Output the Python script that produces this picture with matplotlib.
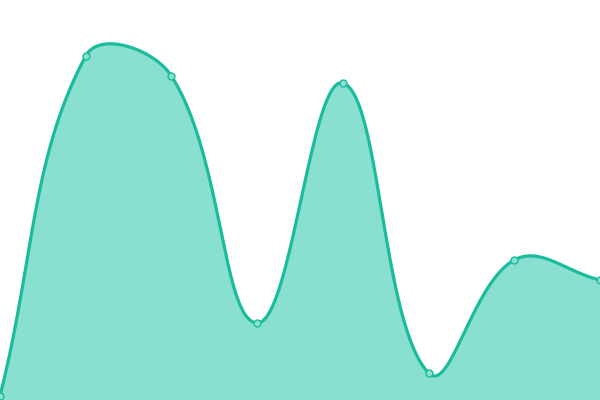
import numpy as np
import matplotlib
matplotlib.use("Agg")
import matplotlib.pyplot as plt

# data
labels = ["A", "B", "C", "D", "E", "F", "G", "H"]
values = [4, 344, 324, 77, 317, 27, 140, 120]

LINE = "#1abc9c"
FILL = "#8ae0d0"
TENSION = 0.4


def spline_path(px, py, t=TENSION, n=40):
    """Chart.js-style cardinal spline through pixel points."""
    pts = np.column_stack([px, py])
    k = len(pts)
    cp_prev = np.zeros_like(pts); cp_next = np.zeros_like(pts)
    for i in range(k):
        prev = pts[max(i - 1, 0)]; cur = pts[i]; nxt = pts[min(i + 1, k - 1)]
        d01 = np.hypot(*(cur - prev)); d12 = np.hypot(*(nxt - cur))
        tot = d01 + d12
        s01 = d01 / tot if tot else 0; s12 = d12 / tot if tot else 0
        cp_prev[i] = cur - t * s01 * (nxt - prev)
        cp_next[i] = cur + t * s12 * (nxt - prev)
    u = np.linspace(0, 1, n)[:, None]
    out = []
    for i in range(k - 1):
        p0, p1, p2, p3 = pts[i], cp_next[i], cp_prev[i + 1], pts[i + 1]
        seg = ((1 - u) ** 3) * p0 + 3 * ((1 - u) ** 2) * u * p1 + 3 * (1 - u) * u ** 2 * p2 + u ** 3 * p3
        out.append(seg if i == 0 else seg[1:])
    return np.vstack(out)


fig = plt.figure(figsize=(6, 4), dpi=100)
ax = fig.add_axes([0, 0, 1, 1])
ax.set_xlim(0, len(labels) - 1)
ax.set_ylim(0, 400)
ax.axis("off")

x = np.arange(len(labels))
pix = ax.transData.transform(np.column_stack([x, values]))
curve = ax.transData.inverted().transform(spline_path(pix[:, 0], pix[:, 1]))

ax.fill_between(curve[:, 0], curve[:, 1], 0, color=FILL, lw=0, zorder=1)
ax.plot(curve[:, 0], curve[:, 1], color=LINE, lw=2.3, zorder=2, solid_capstyle="round")
ax.plot(x, values, "o", ms=5, mfc=FILL, mec=LINE, mew=1, zorder=3, clip_on=True)

fig.savefig("out.png", dpi=100)
